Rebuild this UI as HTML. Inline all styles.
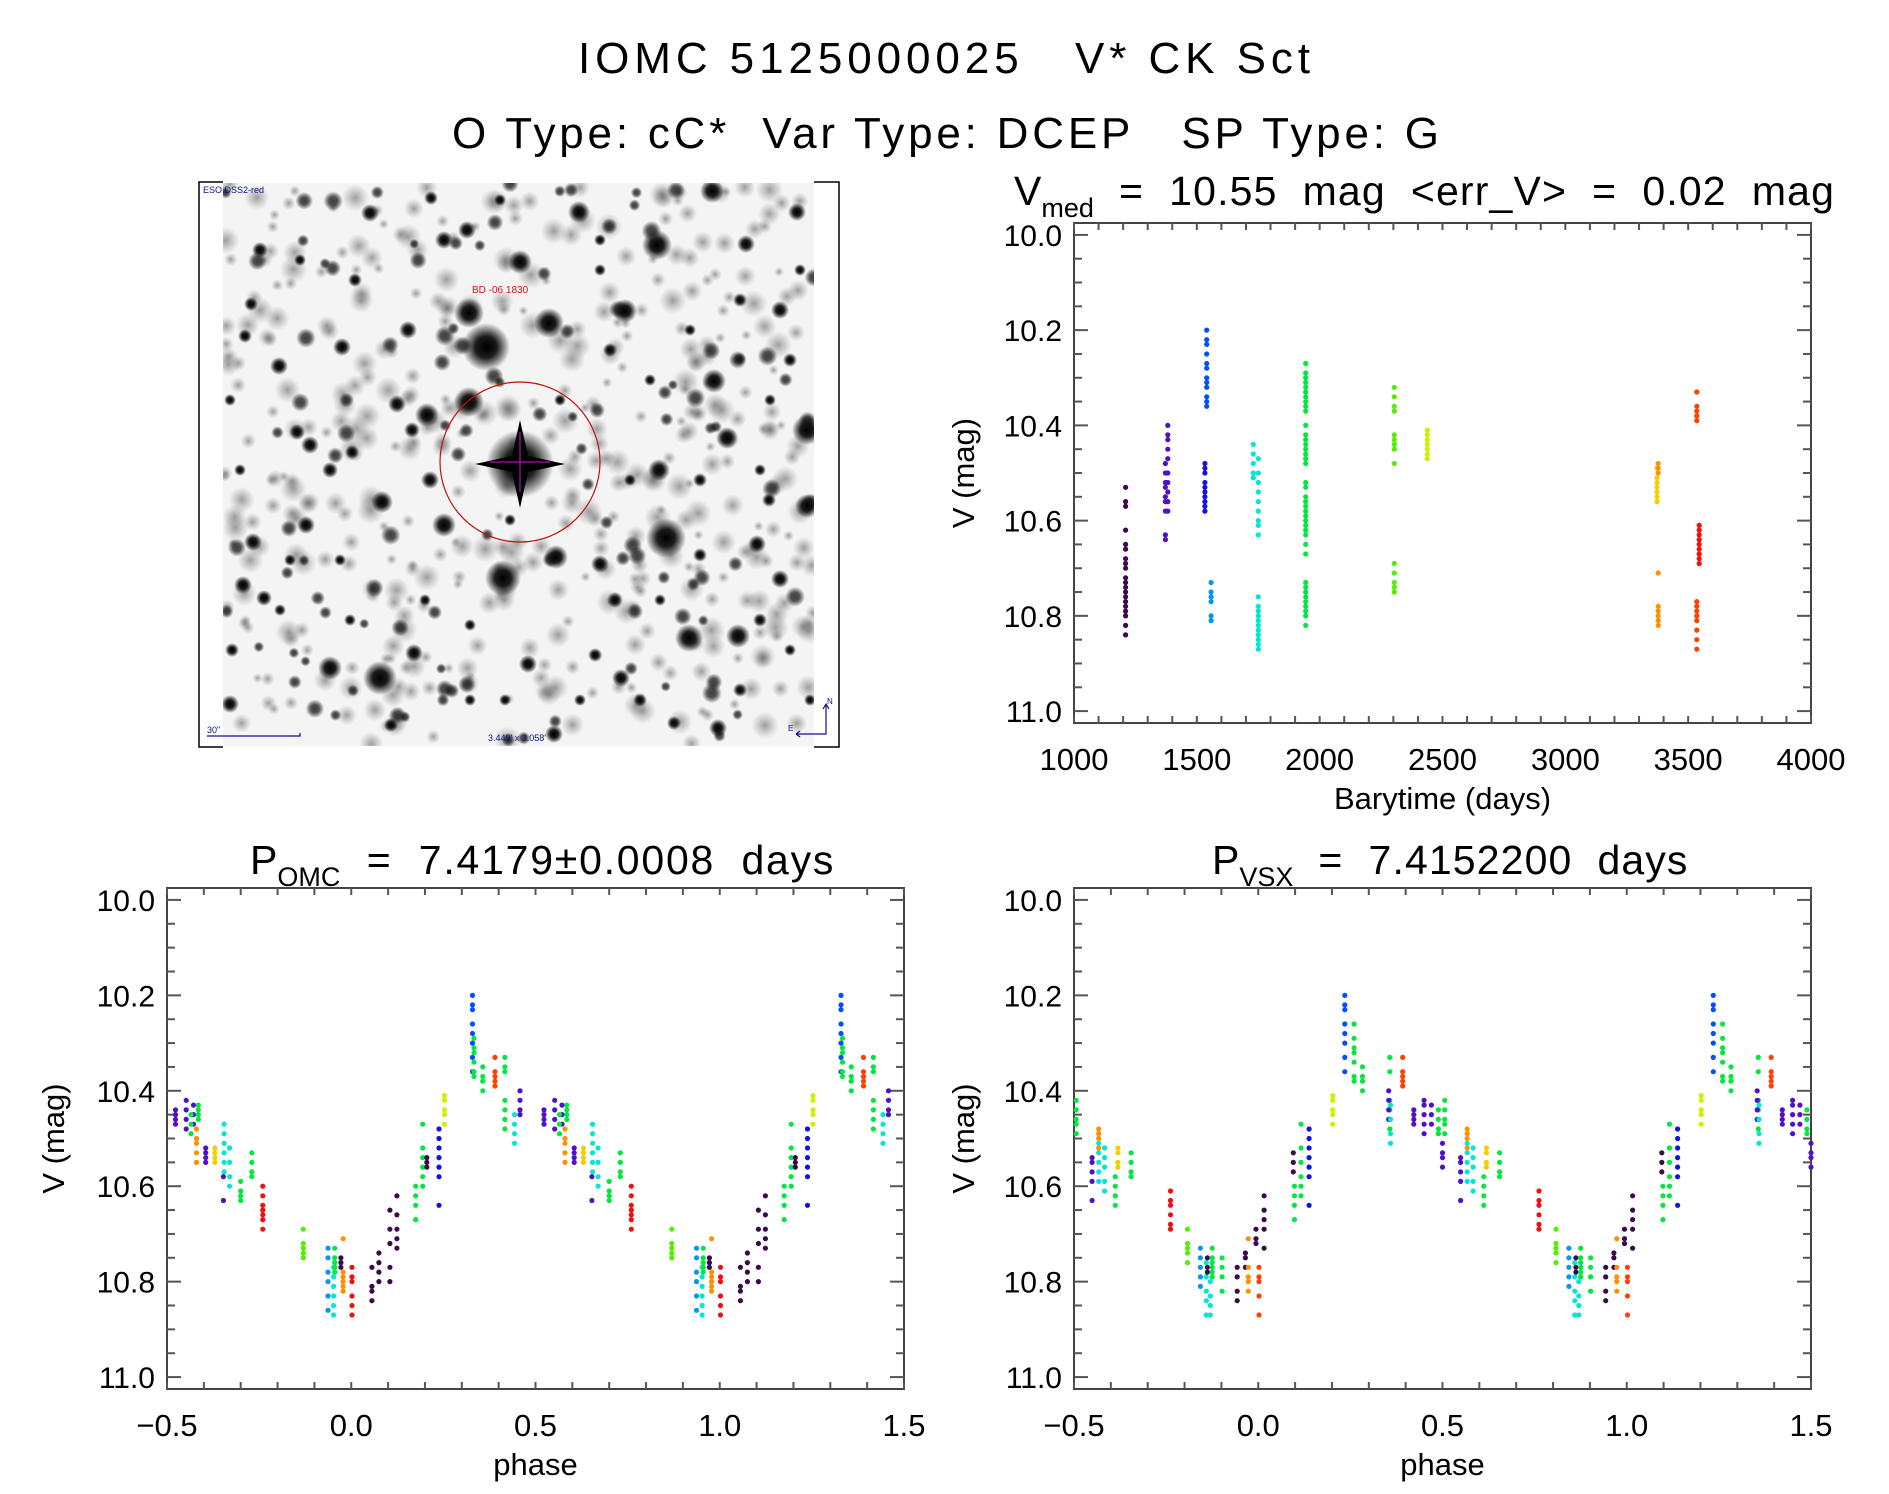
<!DOCTYPE html>
<html><head><meta charset="utf-8"><style>
html,body{margin:0;padding:0;background:#fff;}
svg{display:block;font-family:"Liberation Sans","DejaVu Sans",sans-serif;}
text{white-space:pre;}
</style></head>
<body>
<svg id="fig" width="1889" height="1494" viewBox="0 0 1889 1494" xmlns="http://www.w3.org/2000/svg">
<defs>
<radialGradient id="starG"><stop offset="0" stop-color="#000" stop-opacity="1"/><stop offset="0.45" stop-color="#111" stop-opacity="0.95"/><stop offset="1" stop-color="#000" stop-opacity="0"/></radialGradient>
<radialGradient id="fogG"><stop offset="0" stop-color="#555" stop-opacity="0.55"/><stop offset="1" stop-color="#777" stop-opacity="0"/></radialGradient>
<clipPath id="imgClip"><rect x="223" y="183" width="591" height="563"/></clipPath>
</defs>
<text x="578" y="73" font-size="44" textLength="732" lengthAdjust="spacing">IOMC 5125000025   V* CK Sct</text>
<text x="452" y="148" font-size="44" textLength="987" lengthAdjust="spacing">O Type: cC*  Var Type: DCEP   SP Type: G</text>

<g id="skyimg">
<rect x="199" y="182" width="640" height="565" fill="#fff" stroke="none"/>
<rect x="223" y="183" width="591" height="563" fill="#f4f4f4"/>
<g id="stars" clip-path="url(#imgClip)"></g>
<path d="M223 182 H199 V747 H223 M814 182 H839 V747 H814" fill="none" stroke="#000" stroke-width="1.5"/>
<ellipse cx="520" cy="462" rx="80" ry="80" fill="none" stroke="#c01010" stroke-width="1.2"/>
<path d="M520 432 V492 M490 462 H550" stroke="#b010b0" stroke-width="1.2"/>
<text x="203" y="193" font-size="9" fill="#10108a">ESO DSS2-red</text>
<text x="472" y="293" font-size="10" fill="#d01010">BD -06 1830</text>
<text x="207" y="733" font-size="9" fill="#10108a">30"</text>
<path d="M207 736 H300 V733" stroke="#10108a" stroke-width="1.2" fill="none"/>
<text x="488" y="741" font-size="9" fill="#10108a">3.449' x 3.058'</text>
<path d="M796 734 H826 V705 M823 709 L826 704 L829 709 M796 734 L800 731 M796 734 L800 737" stroke="#10108a" stroke-width="1.2" fill="none"/>
<text x="827" y="704" font-size="8" fill="#10108a">N</text>
<text x="788" y="731" font-size="8" fill="#10108a">E</text>
</g>
<g id="charts"></g>
</svg>
<script>
// ---------- DATA ----------
const palette = ["#3a0a4a","#5010c8","#1010e8","#0050ff","#0098f0","#00e8d0","#00e840","#50f000","#d0f000","#f0d000","#ff9000","#ff4000","#f01010"];
const lcTimes  = [1210,1372,1382,1533,1540,1558,1730,1750,1943,2304,2438,3373,3378,3535,3545];
const lcColors = [0,1,1,2,3,4,5,5,6,7,8,9,10,11,12];
const lcMags = [
 [10.53,10.56,10.57,10.62,10.65,10.66,10.68,10.69,10.70,10.72,10.73,10.74,10.75,10.76,10.77,10.78,10.79,10.80,10.82,10.84],
 [10.48,10.50,10.52,10.53,10.55,10.56,10.58,10.63,10.64],
 [10.40,10.42,10.43,10.45,10.47,10.50,10.52,10.54,10.56,10.58],
 [10.48,10.49,10.50,10.52,10.53,10.54,10.55,10.56,10.57,10.58],
 [10.20,10.22,10.23,10.25,10.27,10.28,10.30,10.31,10.32,10.34,10.35,10.36],
 [10.73,10.75,10.76,10.77,10.80,10.81],
 [10.44,10.46,10.48,10.50,10.51],
 [10.47,10.50,10.52,10.54,10.56,10.58,10.60,10.61,10.63,10.76,10.78,10.79,10.80,10.81,10.82,10.83,10.84,10.85,10.86,10.87],
 [10.27,10.29,10.30,10.31,10.32,10.33,10.34,10.35,10.36,10.37,10.40,10.42,10.43,10.44,10.45,10.46,10.47,10.48,10.52,10.53,10.55,10.56,10.57,10.58,10.59,10.60,10.61,10.62,10.63,10.65,10.67,10.73,10.74,10.75,10.76,10.77,10.78,10.79,10.80,10.82],
 [10.32,10.34,10.36,10.37,10.42,10.43,10.44,10.45,10.48,10.69,10.71,10.73,10.74,10.75],
 [10.41,10.42,10.43,10.44,10.45,10.46,10.47],
 [10.49,10.51,10.52,10.53,10.54,10.55,10.56],
 [10.48,10.49,10.50,10.71,10.78,10.79,10.80,10.81,10.82],
 [10.33,10.36,10.37,10.38,10.39,10.77,10.78,10.79,10.80,10.81,10.83,10.85,10.87],
 [10.61,10.62,10.63,10.64,10.65,10.66,10.67,10.68,10.69]
];
const omcPhases = [-0.477,-0.448,-0.428,-0.415,-0.435,-0.420,-0.395,-0.370,-0.345,-0.347,-0.330,-0.300,-0.270,-0.240,-0.130,-0.063,-0.048,-0.045,-0.028,-0.022,0.002,0.056,0.075,0.105,0.124,0.175,0.194,0.205,0.238,0.253,0.329,0.333,0.357,0.390,0.417,0.443,0.458];
const omcColors = [1,1,1,6,6,10,1,9,5,1,5,6,6,12,7,4,5,6,0,10,12,0,0,0,0,6,6,0,2,8,3,6,6,11,6,5,1];
const omcMags = [
 [10.44,10.45,10.46,10.47],[10.42,10.44,10.46,10.48],[10.43,10.45,10.47],[10.43,10.44,10.45,10.46],[10.45,10.47,10.49],
 [10.48,10.50,10.51,10.53,10.55],[10.52,10.53,10.54,10.55],[10.52,10.53,10.54,10.55],[10.47,10.49,10.51,10.53,10.55,10.57],[10.58,10.63],
 [10.52,10.55,10.58,10.60],[10.59,10.61,10.62,10.63],[10.53,10.55,10.57,10.58],[10.60,10.62,10.64,10.65,10.66,10.67,10.69],[10.69,10.72,10.73,10.74,10.75],
 [10.73,10.75,10.78,10.80,10.83,10.86],[10.77,10.79,10.81,10.83,10.85,10.87],[10.73,10.75,10.76,10.77,10.78],[10.75,10.76,10.77],[10.71,10.78,10.79,10.80,10.81,10.82],
 [10.77,10.79,10.80,10.83,10.85,10.87],[10.77,10.81,10.82,10.84],[10.74,10.76,10.78,10.80],[10.65,10.69,10.72,10.77,10.80],[10.62,10.66,10.69,10.71,10.73],
 [10.60,10.62,10.64,10.67],[10.47,10.52,10.54,10.56,10.58,10.60],[10.54,10.55,10.56],[10.48,10.50,10.52,10.54,10.56,10.58,10.64],[10.41,10.42,10.44,10.45,10.47],
 [10.20,10.22,10.23,10.26,10.28,10.30,10.33,10.36],[10.29,10.31,10.32,10.34,10.36,10.37],[10.35,10.37,10.38,10.40],[10.33,10.36,10.37,10.38,10.39],[10.33,10.35,10.36,10.42,10.44,10.46,10.48],
 [10.45,10.47,10.49,10.51],[10.40,10.42,10.44,10.45]
];
const vsxPhases = [-0.494,-0.433,-0.451,-0.433,-0.417,-0.381,-0.388,-0.345,-0.238,-0.192,-0.157,-0.141,-0.138,-0.125,-0.130,-0.098,-0.057,-0.035,-0.027,0.002,-0.006,0.016,0.095,0.098,0.116,0.138,0.202,0.235,0.260,0.283,0.357,0.354,0.359,0.392,0.422,0.450,0.470,0.489,0.500];
const vsxColors = [6,10,1,5,5,9,6,6,12,7,4,5,0,6,5,6,0,0,10,11,0,0,0,6,6,2,8,3,6,6,6,1,5,11,1,1,1,6,1];
const vsxMags = [
 [10.42,10.44,10.46,10.47,10.49],[10.48,10.49,10.50,10.52],[10.54,10.55,10.57,10.59,10.63],[10.51,10.53,10.55,10.57,10.59],[10.52,10.54,10.56,10.59,10.61],
 [10.52,10.53,10.55,10.56],[10.58,10.60,10.62,10.64],[10.53,10.55,10.57,10.58],[10.61,10.63,10.64,10.66,10.68,10.69],[10.69,10.72,10.73,10.74,10.76],
 [10.73,10.75,10.77,10.79,10.81],[10.76,10.79,10.82,10.84,10.87],[10.75,10.77,10.78],[10.73,10.75,10.76,10.77,10.78,10.79],[10.80,10.83,10.85,10.87],
 [10.75,10.77,10.79,10.82],[10.77,10.79,10.82,10.84],[10.74,10.75,10.77],[10.71,10.77,10.79,10.80,10.82],[10.77,10.79,10.80,10.83,10.87],
 [10.69,10.71,10.72],[10.62,10.65,10.67,10.69,10.73],[10.53,10.55,10.57],[10.60,10.62,10.64,10.67],[10.47,10.52,10.55,10.58,10.60,10.62],
 [10.48,10.50,10.52,10.54,10.56,10.58,10.64],[10.41,10.42,10.44,10.45,10.47],[10.20,10.22,10.23,10.26,10.28,10.30,10.33,10.36],[10.26,10.29,10.31,10.32,10.34,10.37,10.38],[10.35,10.37,10.38,10.40],
 [10.33,10.36,10.42,10.44,10.46,10.48],[10.40,10.42,10.44,10.46],[10.43,10.46,10.49,10.51],[10.33,10.36,10.37,10.38,10.39],[10.44,10.45,10.46,10.47],
 [10.42,10.43,10.45,10.47,10.49],[10.43,10.45,10.47],[10.44,10.46,10.48,10.49],[10.51,10.53,10.54,10.56]
];
const yTickLabels = ["10.0","10.2","10.4","10.6","10.8","11.0"];
const timeTickLabels = ["1000","1500","2000","2500","3000","3500","4000"];
const phaseTickLabels = ["\u22120.5","0.0","0.5","1.0","1.5"];

// ---------- SKY IMAGE ----------
const starList = [[520,464,34],[486,347,24],[469,313,15],[549,323,15],[657,245,15],[712,191,12],[666,538,20],[380,678,17],[330,668,12],[689,638,14],[738,636,12],[503,578,18],[556,557,12],[444,525,12],[382,502,11],[469,402,15],[807,430,15],[807,506,12],[625,311,12],[714,381,12],[727,438,11],[520,262,12],[579,212,11],[797,212,9],[444,240,9],[467,230,9],[427,415,12],[397,404,9],[306,525,9],[253,542,9],[243,585,9],[264,598,8],[230,704,9],[414,653,9],[528,664,9],[757,544,9],[780,579,9],[621,678,9],[718,728,9],[600,564,9],[659,470,11],[408,330,9],[370,213,9],[342,347,9],[279,366,9],[251,304,7],[310,445,9],[780,310,9],[769,500,7],[431,198,7],[746,244,9],[391,725,7],[554,734,9],[674,723,7],[245,336,7],[297,432,8],[330,470,8],[352,452,7],[430,480,9],[412,430,8],[700,555,7],[760,620,7],[615,600,8],[595,655,7],[640,700,7],[740,690,7],[700,480,7],[740,300,7],[610,350,7],[600,270,6],[260,250,8],[300,260,6],[355,280,7],[232,650,7],[280,610,6],[350,620,6],[470,700,6],[505,700,6],[580,700,6],[660,600,6],[790,360,7],[770,400,6],[230,400,6],[240,470,6],[340,560,6],[290,560,6],[470,625,6],[425,600,6],[510,520,6],[630,480,6],[560,400,6],[650,380,6],[690,330,6],[760,470,6],[790,650,6],[810,700,6],[600,240,6],[500,200,6],[800,270,6]];
const sg = document.getElementById('stars');
const NS = "http://www.w3.org/2000/svg";
// faint background blobs (deterministic pseudo-random texture for the sky image, not chart data)
let seed = 12345;
function lcg(){ seed = (seed*1103515245 + 12345) % 2147483648; return seed/2147483648; }
for(let i=0;i<420;i++){
  const c=document.createElementNS(NS,'circle');
  c.setAttribute('cx',(223+lcg()*591).toFixed(1));
  c.setAttribute('cy',(183+lcg()*563).toFixed(1));
  c.setAttribute('r',(5+lcg()*9).toFixed(1));
  c.setAttribute('fill','url(#fogG)');
  sg.appendChild(c);
}
for(let i=0;i<110;i++){
  const c=document.createElementNS(NS,'circle');
  c.setAttribute('cx',(223+lcg()*591).toFixed(1));
  c.setAttribute('cy',(183+lcg()*563).toFixed(1));
  c.setAttribute('r',(5+lcg()*5).toFixed(1));
  c.setAttribute('fill','url(#starG)');
  c.setAttribute('opacity','0.75');
  sg.appendChild(c);
}
starList.forEach(s=>{
  const c=document.createElementNS(NS,'circle');
  c.setAttribute('cx',s[0]);c.setAttribute('cy',s[1]);c.setAttribute('r',s[2]);
  c.setAttribute('fill','url(#starG)');
  sg.appendChild(c);
});
const cross=document.createElementNS(NS,'path');
cross.setAttribute('d','M520 420 L528 456 L565 464 L528 472 L520 508 L512 472 L475 464 L512 456 Z');
cross.setAttribute('fill','#000');
sg.appendChild(cross);

// ---------- CHART HELPERS ----------
const charts = document.getElementById('charts');
function el(tag, attrs, parent){
  const e=document.createElementNS(NS,tag);
  for(const k in attrs) e.setAttribute(k,attrs[k]);
  (parent||charts).appendChild(e); return e;
}
function makeAxes(p){
  const g=el('g',{});
  
  
  el('rect',{x:p.x0,y:p.y0,width:p.x1-p.x0,height:p.y1-p.y0,fill:'none',stroke:'#444','stroke-width':2},g);
  for(let i=0;i<=20;i++){
    const v=10+i*0.05, y=p.ys(v), major=(i%4===0), len=major?14:8;
    el('line',{x1:p.x0,x2:p.x0+len,y1:y,y2:y,stroke:'#555','stroke-width':2},g);
    el('line',{x1:p.x1,x2:p.x1-len,y1:y,y2:y,stroke:'#555','stroke-width':2},g);
  }
  yTickLabels.forEach((t,i)=>{
    const tx=el('text',{x:p.x0-12,y:p.ys(10+i*0.2)+11,'font-size':30,'text-anchor':'end',fill:'#000'},g);
    
    
    tx.textContent=t;
  });
  p.xMinor.forEach(v=>{
    const x=p.xs(v);
    el('line',{x1:x,x2:x,y1:p.y1,y2:p.y1-7,stroke:'#555','stroke-width':2},g);
    el('line',{x1:x,x2:x,y1:p.y0,y2:p.y0+7,stroke:'#555','stroke-width':2},g);
  });
  p.xLabels.forEach((t,i)=>{
    const tx=el('text',{x:p.xs(p.xLabVals[i]),y:p.y1+47,'font-size':31,'text-anchor':'middle',fill:'#000'},g);
    
    
    tx.textContent=t;
  });
  const xt=el('text',{x:(p.x0+p.x1)/2,y:p.y1+86,'font-size':31,'text-anchor':'middle',fill:'#000'},g);
  
  
  xt.textContent=p.xTitle;
  const cy=(p.y0+p.y1)/2;
  const yt=el('text',{x:p.ytx,y:cy,'font-size':31,'text-anchor':'middle',fill:'#000',transform:`rotate(-90 ${p.ytx} ${cy})`},g);
  
  
  yt.textContent='V (mag)';
  return g;
}
function dot(g,x,y,c){
  const d=el('circle',{cx:x.toFixed(1),cy:y.toFixed(1),r:2.6,fill:c},g);
  
  
}
function ysFactory(y0,y1){
  return v=> y0 + (v-9.975)/(1.05)*(y1-y0);
}

// ---------- LIGHT CURVE ----------
(function(){
  const x0=1074,x1=1811,y0=223,y1=723;
  const xs=t=>x0+(t-1000)/3000*(x1-x0);
  const ys=ysFactory(y0,y1);
  const minor=[];for(let t=1000;t<=4000;t+=100)minor.push(t);
  const g=makeAxes({name:'light-curve-chart',x0,x1,y0,y1,xs,ys,xMinor:minor,xLabels:timeTickLabels,xLabVals:[1000,1500,2000,2500,3000,3500,4000],xTitle:'Barytime (days)',ytx:974});
  lcTimes.forEach((t,i)=>{
    lcMags[i].forEach(m=>dot(g,xs(t),ys(m),palette[lcColors[i]]));
  });
})();

// ---------- PHASE PLOTS ----------
function phasePlot(name,x0,phases,colors,mags,ytx){
  const x1=x0+737,y0=888,y1=1389;
  const xs=p=>x0+(p+0.5)/2*(x1-x0);
  const ys=ysFactory(y0,y1);
  const minor=[];for(let i=0;i<=20;i++)minor.push(-0.5+i*0.1);
  const g=makeAxes({name,x0,x1,y0,y1,xs,ys,xMinor:minor,xLabels:phaseTickLabels,xLabVals:[-0.5,0,0.5,1,1.5],xTitle:'phase',ytx});
  phases.forEach((p,i)=>{
    [p,p+1].forEach(pp=>{
      if(pp>=-0.5&&pp<=1.5) mags[i].forEach(m=>dot(g,xs(pp),ys(m),palette[colors[i]]));
    });
  });
}
phasePlot('omc-phase-chart',167,omcPhases,omcColors,omcMags,64);
phasePlot('vsx-phase-chart',1074,vsxPhases,vsxColors,vsxMags,974);

// ---------- PANEL TITLES ----------
function title(name,x,y,main,sub,rest,restLen){
  const t=el('text',{x,y,'font-size':41,fill:'#000'});
  
  
  const a=el('tspan',{},t);a.textContent=main;
  const b=el('tspan',{dy:12,'font-size':27},t);b.textContent=sub;
  const c=el('tspan',{dy:-12,textLength:restLen,lengthAdjust:'spacing'},t);c.textContent=rest;
}
title('light-curve-title',1014,205,'V','med','  =  10.55  mag  <err_V>  =  0.02  mag',740);
title('omc-period-title',250,874,'P','OMC','  =  7.4179\u00b10.0008  days',493);
title('vsx-period-title',1212,874,'P','VSX','  =  7.4152200  days',394);
</script>
</body></html>
